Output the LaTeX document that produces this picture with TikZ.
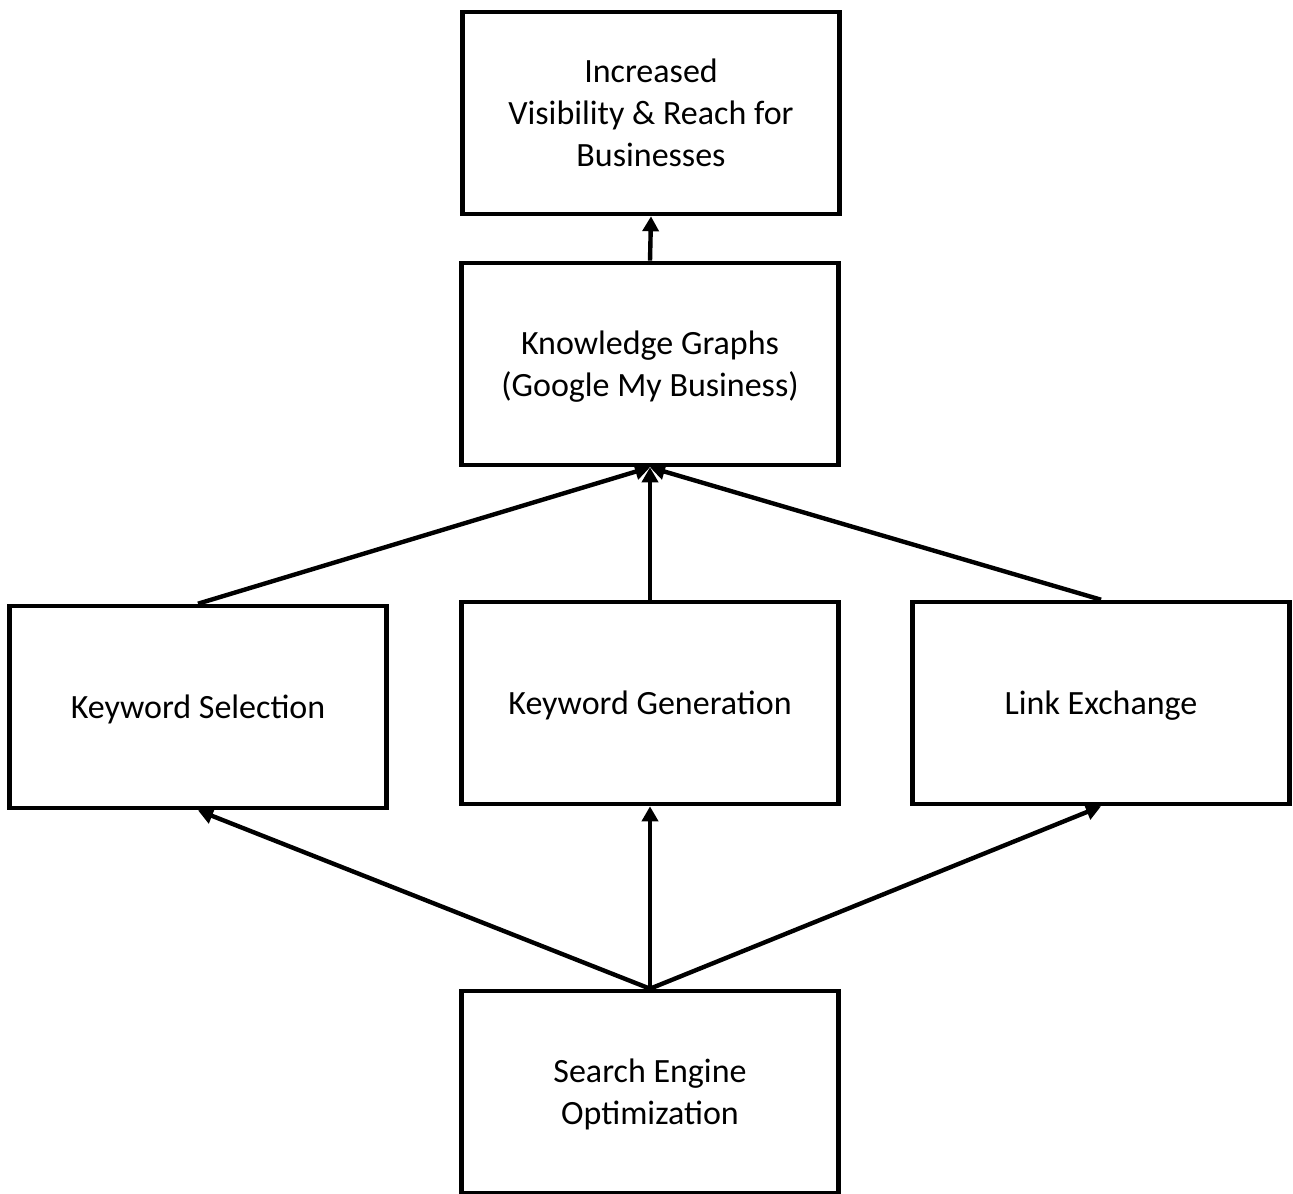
\documentclass[tikz,border=0pt]{standalone}
\usepackage{fontspec}
\setmainfont{Carlito}
\usepackage{tikz}
\usetikzlibrary{calc,positioning,arrows.meta}

\begin{document}
\begin{tikzpicture}[x=0.5pt,y=-0.5pt,font=\fontsize{17pt}{21pt}\selectfont,
      blk/.style={draw=black,fill=white,line width=2.3pt,minimum width=188.5pt,minimum height=101pt,align=center,inner sep=1.5mm,text depth=0pt},
      arr/.style={-{Triangle[length=7.5pt,width=8pt]},line width=2.2pt,color=black}]
      \useasboundingbox (0,0) rectangle (1293,1193);
      \node[blk] (vis) at (651,113) {Increased\\Visibility \& Reach for\\Businesses};
      \node[blk] (kg) at (650,364) {Knowledge Graphs\\(Google My Business)};
      \node[blk] (ks) at (198,707) {Keyword Selection};
      \node[blk] (kgen) at (650,703) {Keyword Generation};
      \node[blk] (le) at (1101,703) {Link Exchange};
      \node[blk] (seo) at (650,1092) {Search Engine\\Optimization};
      \draw[arr] (seo.north) -- (ks.south); \draw[arr] (seo.north) -- (kgen.south); \draw[arr] (seo.north) -- (le.south);
      \draw[arr] (ks.north) -- (kg.south); \draw[arr] (kgen.north) -- (kg.south); \draw[arr] (le.north) -- (kg.south);
      \draw[arr] (kg.north) -- (vis.south);
    \end{tikzpicture}
\end{document}
